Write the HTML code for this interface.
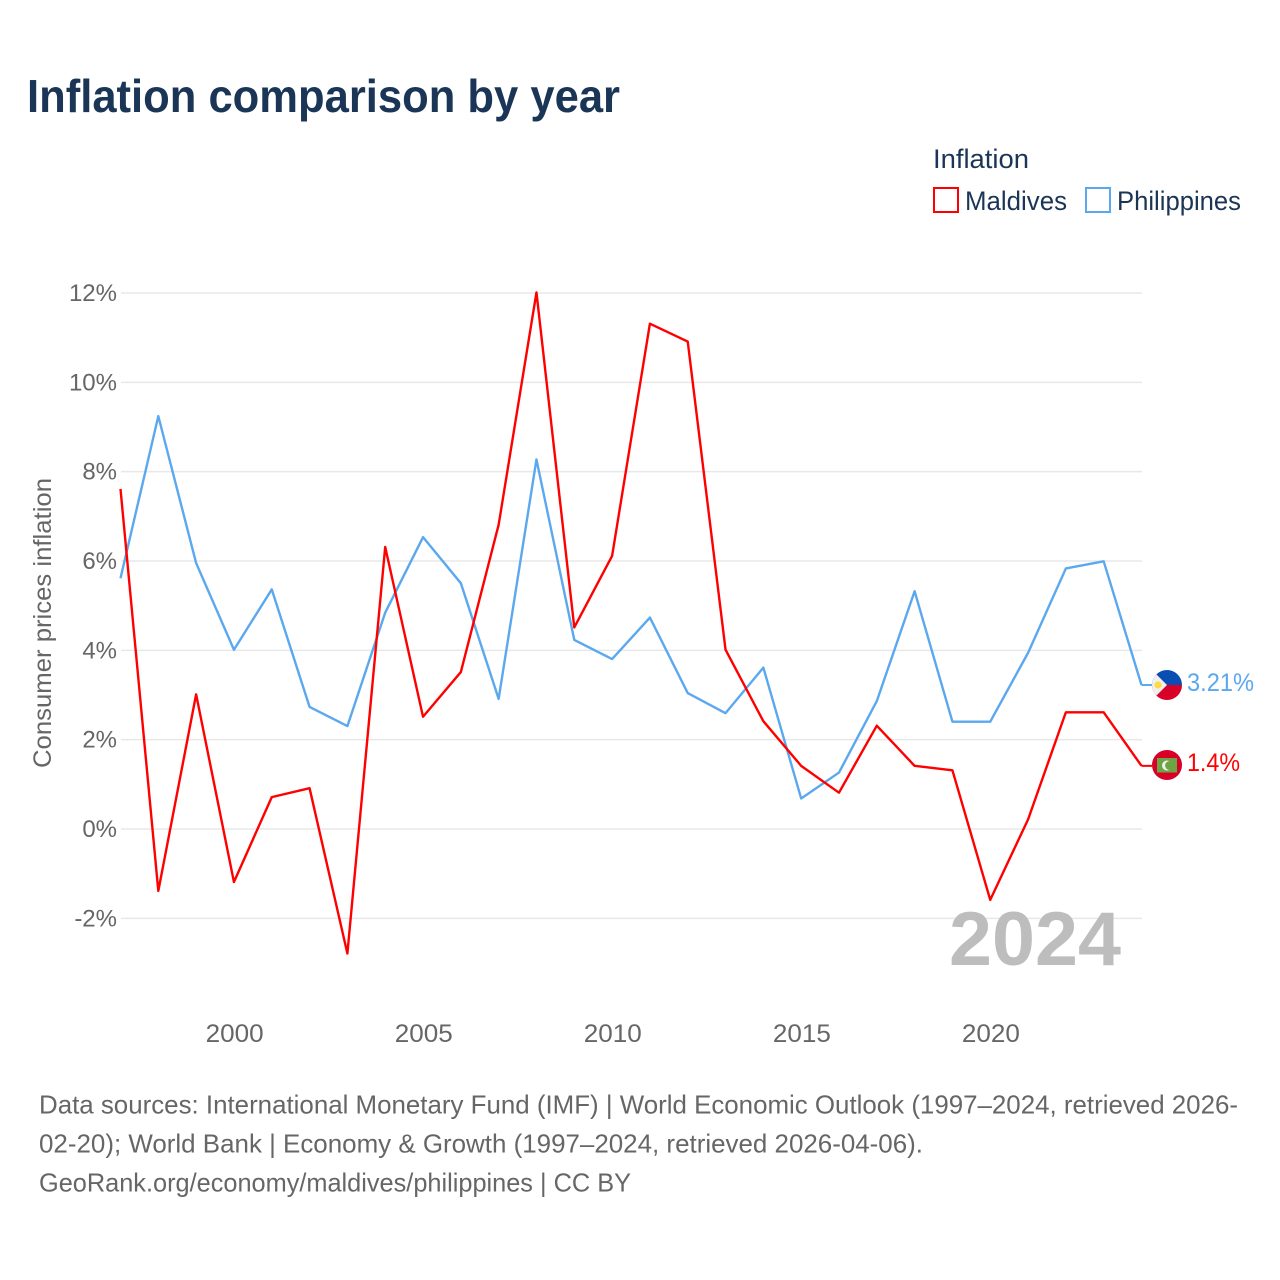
<!DOCTYPE html>
<html>
<head>
<meta charset="utf-8">
<title>Inflation comparison by year</title>
<style>
html,body{margin:0;padding:0;background:#fff}
svg{display:block}
text{font-family:"Liberation Sans",sans-serif}
</style>
</head>
<body>
<svg id="chart" width="1280" height="1280" viewBox="0 0 1280 1280" xmlns="http://www.w3.org/2000/svg">
  <rect width="1280" height="1280" fill="#fff"/>
  <text x="27" y="112" font-size="46" font-weight="700" fill="#1a3555" textLength="593" lengthAdjust="spacingAndGlyphs">Inflation comparison by year</text>
  <text x="933" y="168" font-size="27" fill="#1a3555" textLength="96" lengthAdjust="spacingAndGlyphs">Inflation</text>
  <rect x="934" y="188" width="24" height="24" fill="none" stroke="#ff0000" stroke-width="2"/>
  <text x="965" y="210" font-size="27" fill="#1a3555" textLength="102" lengthAdjust="spacingAndGlyphs">Maldives</text>
  <rect x="1086" y="188" width="24" height="24" fill="none" stroke="#5ba8ee" stroke-width="2"/>
  <text x="1117" y="210" font-size="27" fill="#1a3555" textLength="124" lengthAdjust="spacingAndGlyphs">Philippines</text>
  <text transform="translate(51,768) rotate(-90)" x="0" y="0" font-size="25" fill="#666" textLength="290" lengthAdjust="spacingAndGlyphs">Consumer prices inflation</text>
  <g id="grid"></g>
  <g id="yticks"></g>
  <g id="xticks"></g>
  <text x="949" y="965" font-size="76" font-weight="700" fill="#bdbdbd" textLength="172" lengthAdjust="spacingAndGlyphs">2024</text>
  <g id="series"></g>
  <g id="flag-ph">
    <clipPath id="clip-ph"><circle cx="1167" cy="685" r="15"/></clipPath>
    <g clip-path="url(#clip-ph)">
      <rect x="1152" y="670" width="30" height="15" fill="#0b4eb3"/>
      <rect x="1152" y="685" width="30" height="15" fill="#d80027"/>
      <polygon points="1152,670 1167,685 1152,700" fill="#f0f0f0"/>
      <circle cx="1158" cy="685" r="3.6" fill="#ffda44"/>
    </g>
  </g>
  <g id="flag-mv">
    <circle cx="1167" cy="765" r="15" fill="#d80027"/>
    <rect x="1157" y="758" width="20" height="14.500" fill="#6da544"/>
    <circle cx="1167" cy="765.500" r="5" fill="#f0f0f0"/>
    <circle cx="1169.500" cy="765.500" r="4.400" fill="#6da544"/>
  </g>
  <text x="1187" y="691" font-size="25" fill="#5ba8ee" textLength="67" lengthAdjust="spacingAndGlyphs">3.21%</text>
  <text x="1187" y="771" font-size="25" fill="#ff0000" textLength="53" lengthAdjust="spacingAndGlyphs">1.4%</text>
  <text x="39" y="1113.500" font-size="26" fill="#666" textLength="1199" lengthAdjust="spacingAndGlyphs">Data sources: International Monetary Fund (IMF) | World Economic Outlook (1997–2024, retrieved 2026-</text>
  <text x="39" y="1152.500" font-size="26" fill="#666" textLength="884" lengthAdjust="spacingAndGlyphs">02-20); World Bank | Economy &amp; Growth (1997–2024, retrieved 2026-04-06).</text>
  <text x="39" y="1191.500" font-size="26" fill="#666" textLength="592" lengthAdjust="spacingAndGlyphs">GeoRank.org/economy/maldives/philippines | CC BY</text>
</svg>
<script>
const years = [1997,1998,1999,2000,2001,2002,2003,2004,2005,2006,2007,2008,2009,2010,2011,2012,2013,2014,2015,2016,2017,2018,2019,2020,2021,2022,2023,2024];
const maldives = [7.6,-1.4,3.0,-1.2,0.7,0.9,-2.8,6.3,2.5,3.5,6.8,12.0,4.5,6.1,11.3,10.9,4.0,2.4,1.4,0.8,2.3,1.4,1.3,-1.6,0.2,2.6,2.6,1.4];
const philippines = [5.6,9.23,5.94,4.0,5.35,2.72,2.29,4.83,6.52,5.49,2.9,8.26,4.22,3.79,4.72,3.03,2.58,3.6,0.67,1.25,2.85,5.31,2.39,2.39,3.93,5.82,5.98,3.21];
const yTickValues = [-2,0,2,4,6,8,10,12];
const xTickValues = [2000,2005,2010,2015,2020];

const NS = 'http://www.w3.org/2000/svg';
function xScale(year){ return 120.5 + (year - 1997) * (1141.5 - 120.5) / 27; }
function yScale(v){ return 829 - v * (829 - 293) / 12; }
function lineY(v){ return yScale(v) - 0.6; }

const grid = document.getElementById('grid');
const yticks = document.getElementById('yticks');
const xticks = document.getElementById('xticks');
const series = document.getElementById('series');

yTickValues.forEach(function(v){
  const line = document.createElementNS(NS,'line');
  
  
  line.setAttribute('x1', 121);
  line.setAttribute('x2', 1142);
  line.setAttribute('y1', yScale(v));
  line.setAttribute('y2', yScale(v));
  line.setAttribute('stroke', '#e8e8e8');
  line.setAttribute('stroke-width', 1.5);
  grid.appendChild(line);

  const t = document.createElementNS(NS,'text');
  
  
  t.setAttribute('x', 117);
  t.setAttribute('y', yScale(v) + 8);
  t.setAttribute('text-anchor', 'end');
  t.setAttribute('font-size', 24);
  t.setAttribute('fill', '#666');
  t.textContent = v + '%';
  yticks.appendChild(t);
});

xTickValues.forEach(function(y){
  const t = document.createElementNS(NS,'text');
  
  
  t.setAttribute('x', xScale(y) + 0.7);
  t.setAttribute('y', 1042);
  t.setAttribute('text-anchor', 'middle');
  t.setAttribute('font-size', 25);
  t.setAttribute('fill', '#666');
  t.setAttribute('textLength', 58);
  t.setAttribute('lengthAdjust', 'spacingAndGlyphs');
  t.textContent = y;
  xticks.appendChild(t);
});

function pathFor(values){
  return values.map(function(v,i){
    return (i ? 'L' : 'M') + xScale(years[i]).toFixed(2) + ' ' + lineY(v).toFixed(2);
  }).join(' ');
}

const philippinesLine = document.createElementNS(NS,'path');


philippinesLine.setAttribute('d', pathFor(philippines));
philippinesLine.setAttribute('fill', 'none');
philippinesLine.setAttribute('stroke', '#5ba8ee');
philippinesLine.setAttribute('stroke-width', 2.400);
philippinesLine.setAttribute('stroke-linejoin', 'round');
series.appendChild(philippinesLine);

const maldivesLine = document.createElementNS(NS,'path');


maldivesLine.setAttribute('d', pathFor(maldives));
maldivesLine.setAttribute('fill', 'none');
maldivesLine.setAttribute('stroke', '#ff0000');
maldivesLine.setAttribute('stroke-width', 2.400);
maldivesLine.setAttribute('stroke-linejoin', 'round');
series.appendChild(maldivesLine);

const endY = [lineY(philippines[philippines.length-1]), lineY(maldives[maldives.length-1])];
const endColors = ['#5ba8ee','#ff0000'];
endY.forEach(function(y,i){
  const c = document.createElementNS(NS,'line');
  
  
  c.setAttribute('x1', 1141.5);
  c.setAttribute('x2', 1152);
  c.setAttribute('y1', y);
  c.setAttribute('y2', y);
  c.setAttribute('stroke', endColors[i]);
  c.setAttribute('stroke-width', 2);
  series.appendChild(c);
});
</script>
</body>
</html>
